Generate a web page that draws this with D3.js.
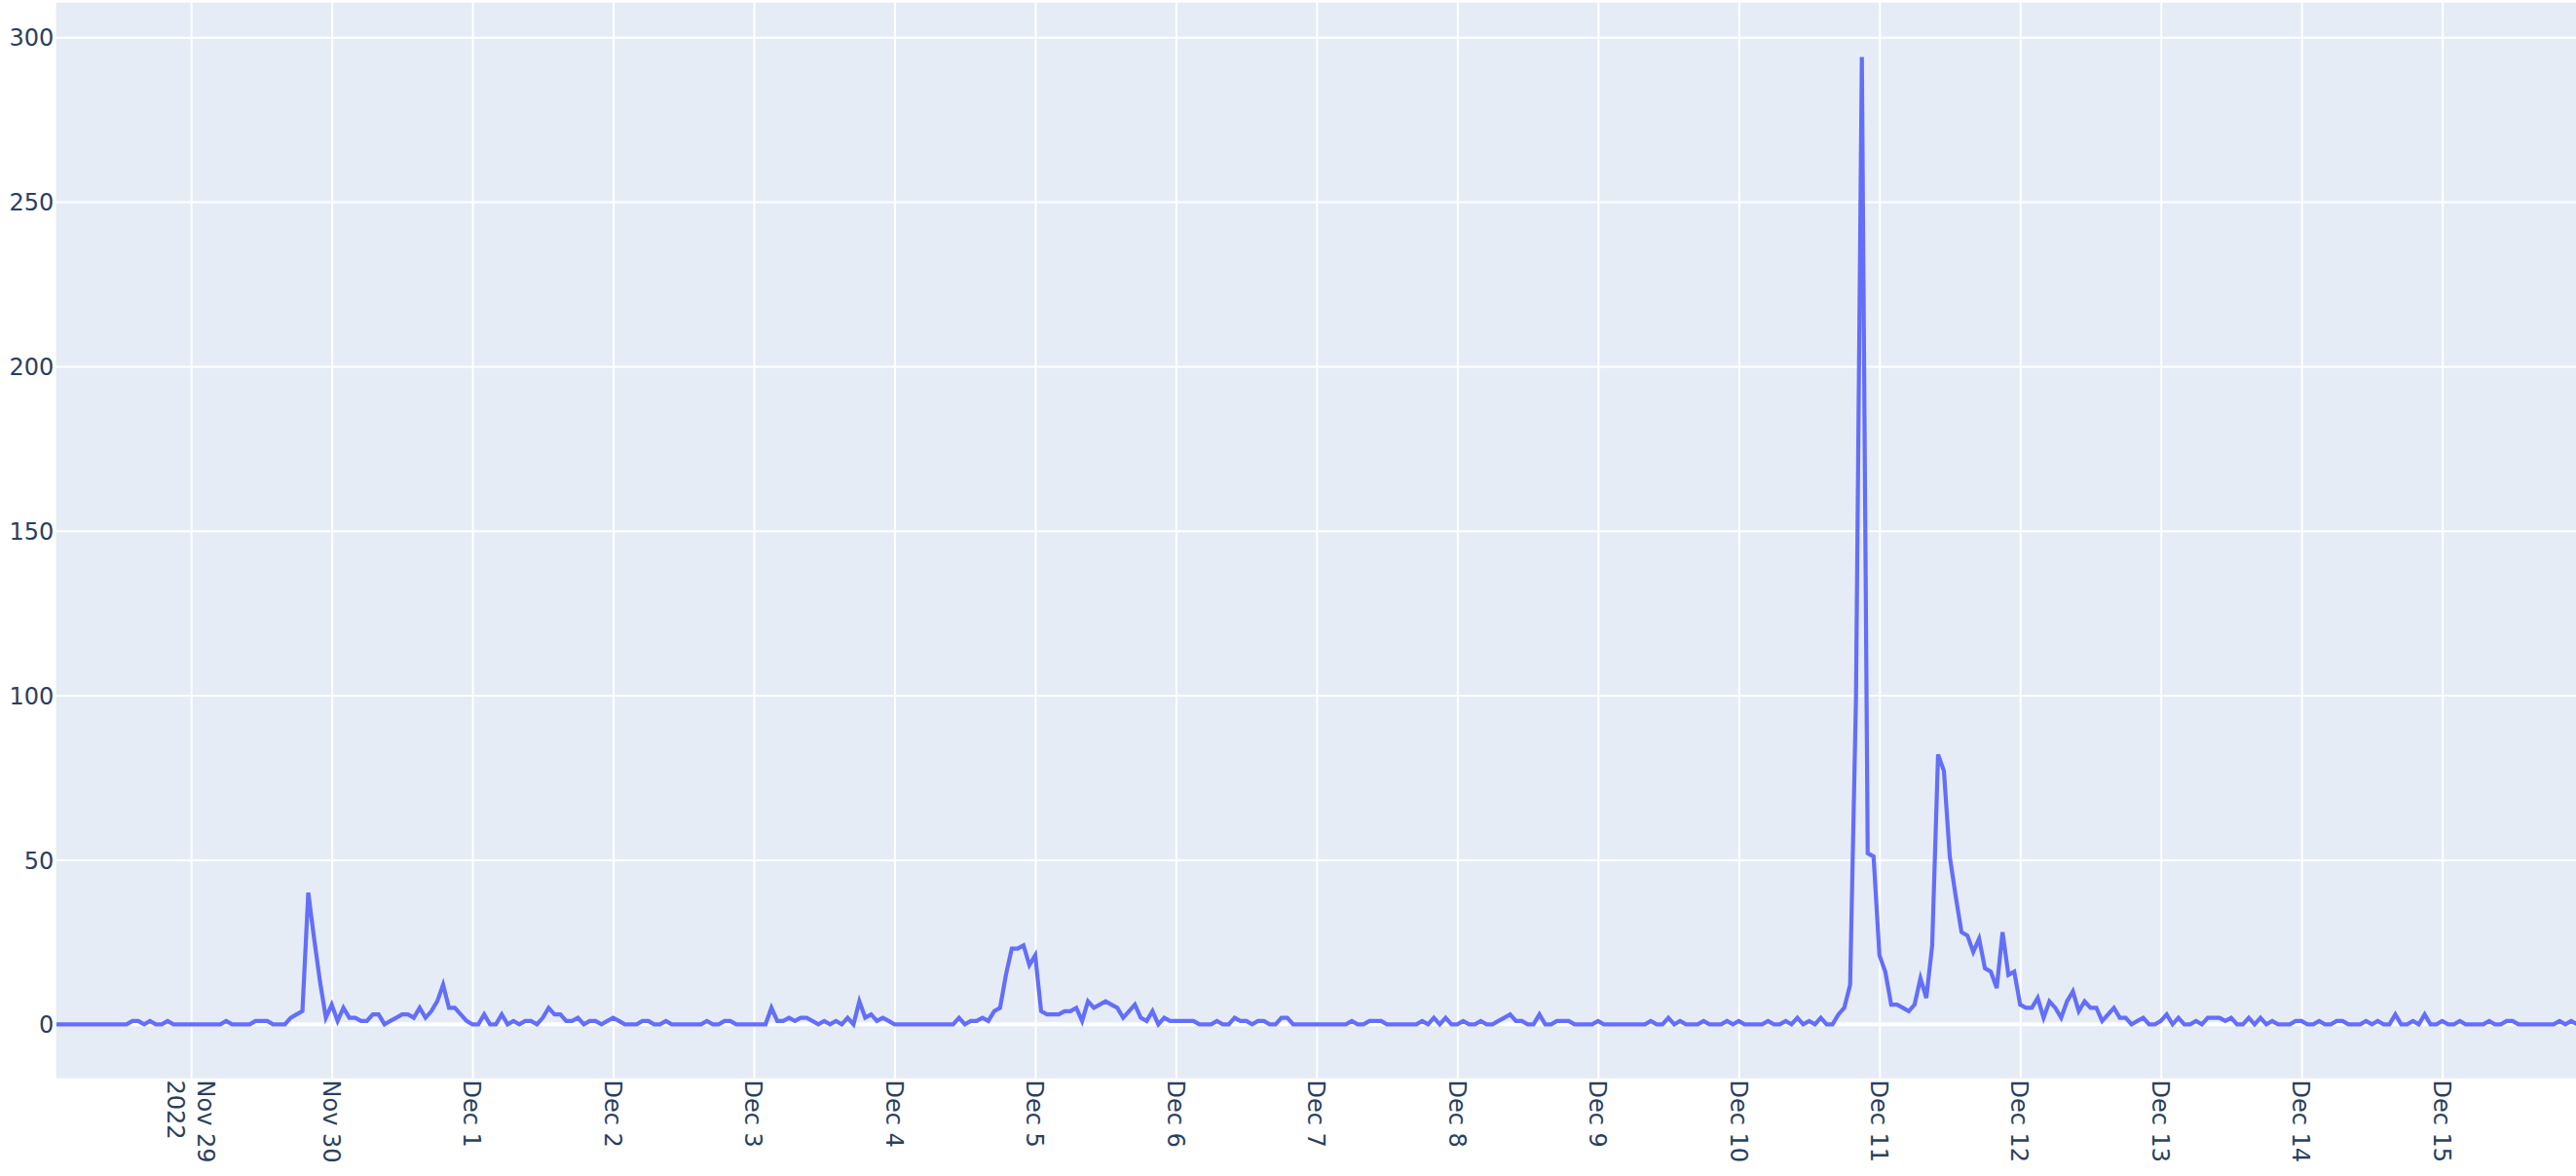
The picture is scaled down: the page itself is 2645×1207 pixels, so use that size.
<!DOCTYPE html>
<html>
<head>
<meta charset="utf-8">
<script src="https://cdn.jsdelivr.net/npm/d3@7"></script>
<style>
  html, body { margin: 0; padding: 0; background: #ffffff; overflow: hidden; }
  svg { display: block; }
</style>
</head>
<body>
<svg id="chart"></svg>
<script>
// ---------------- data ----------------
const startTime = "2022-11-28T01:00:00Z";   // first hourly sample
const values = [
  0,0,0,0,0,0,0,0,0,0,
  0,0,0,1,1,0,1,0,0,1,
  0,0,0,0,0,0,0,0,0,1,
  0,0,0,0,1,1,1,0,0,0,
  2,3,4,40,26,13,2,6,1,5,
  2,2,1,1,3,3,0,1,2,3,
  3,2,5,2,4,7,12,5,5,3,
  1,0,0,3,0,0,3,0,1,0,
  1,1,0,2,5,3,3,1,1,2,
  0,1,1,0,1,2,1,0,0,0,
  1,1,0,0,1,0,0,0,0,0,
  0,1,0,0,1,1,0,0,0,0,
  0,0,5,1,1,2,1,2,2,1,
  0,1,0,1,0,2,0,7,2,3,
  1,2,1,0,0,0,0,0,0,0,
  0,0,0,0,2,0,1,1,2,1,
  4,5,15,23,23,24,18,21,4,3,
  3,3,4,4,5,1,7,5,6,7,
  6,5,2,4,6,2,1,4,0,2,
  1,1,1,1,1,0,0,0,1,0,
  0,2,1,1,0,1,1,0,0,2,
  2,0,0,0,0,0,0,0,0,0,
  0,1,0,0,1,1,1,0,0,0,
  0,0,0,1,0,2,0,2,0,0,
  1,0,0,1,0,0,1,2,3,1,
  1,0,0,3,0,0,1,1,1,0,
  0,0,0,1,0,0,0,0,0,0,
  0,0,1,0,0,2,0,1,0,0,
  0,1,0,0,0,1,0,1,0,0,
  0,0,1,0,0,1,0,2,0,1,
  0,2,0,0,3,5,12,99,294,52,
  51,21,16,6,6,5,4,6,14,8,
  24,82,77,51,39,28,27,22,26,17,
  16,11,28,15,16,6,5,5,8,2,
  7,5,2,7,10,4,7,5,5,1,
  3,5,2,2,0,1,2,0,0,1,
  3,0,2,0,0,1,0,2,2,2,
  1,2,0,0,2,0,2,0,1,0,
  0,0,1,1,0,0,1,0,0,1,
  1,0,0,0,1,0,1,0,0,3,
  0,0,1,0,3,0,0,1,0,0,
  1,0,0,0,0,1,0,0,1,1,
  0,0,0,0,0,0,0,1,0,1,
  0
];
const yTickValues = [0, 50, 100, 150, 200, 250, 300];
const xTickDates = [
  "2022-11-29","2022-11-30","2022-12-01","2022-12-02","2022-12-03","2022-12-04",
  "2022-12-05","2022-12-06","2022-12-07","2022-12-08","2022-12-09","2022-12-10",
  "2022-12-11","2022-12-12","2022-12-13","2022-12-14","2022-12-15"
];
const xTickLabels = [
  ["Nov 29","2022"],["Nov 30"],["Dec 1"],["Dec 2"],["Dec 3"],["Dec 4"],
  ["Dec 5"],["Dec 6"],["Dec 7"],["Dec 8"],["Dec 9"],["Dec 10"],
  ["Dec 11"],["Dec 12"],["Dec 13"],["Dec 14"],["Dec 15"]
];

// ---------------- layout ----------------
const W = 2645, H = 1207;
const P = { left: 57.7, right: 2646.1, top: 2.7, bottom: 1106.7 };
const FONT = '"DejaVu Sans", Verdana, sans-serif';
const FS = 24;
const TEXT = "#2a3f5f";

const t0 = d3.isoParse(startTime);
const series = values.map((v, i) => ({ t: d3.utcHour.offset(t0, i), v }));
const tickDates = xTickDates.map(d => d3.isoParse(d + "T00:00:00Z"));

const x = d3.scaleUtc()
  .domain([series[0].t, series[series.length - 1].t])
  .range([P.left, P.right]);
const y = d3.scaleLinear()
  .domain([-16.4, 310.5])
  .range([P.bottom, P.top]);

const svg = d3.select("#chart").attr("width", W).attr("height", H)
  .attr("viewBox", `0 0 ${W} ${H}`);

svg.append("rect").attr("x", 0).attr("y", 0).attr("width", W).attr("height", H).attr("fill", "#ffffff");
svg.append("rect")
  .attr("x", P.left).attr("y", P.top)
  .attr("width", P.right - P.left).attr("height", P.bottom - P.top)
  .attr("fill", "#E5ECF6");

// vertical gridlines
const gx = svg.append("g").attr("transform", `translate(0,${P.bottom})`)
  .call(d3.axisBottom(x).tickValues(tickDates).tickSize(-(P.bottom - P.top)).tickFormat(""));
gx.select(".domain").remove();
gx.selectAll("line").attr("stroke", "#ffffff").attr("stroke-width", 2);

// horizontal gridlines
const gy = svg.append("g").attr("transform", `translate(${P.left},0)`)
  .call(d3.axisLeft(y).tickValues(yTickValues.filter(v => v !== 0)).tickSize(-(P.right - P.left)).tickFormat(""));
gy.select(".domain").remove();
gy.selectAll("line").attr("stroke", "#ffffff").attr("stroke-width", 2);

// zero line
svg.append("line")
  .attr("x1", P.left).attr("x2", P.right)
  .attr("y1", y(0)).attr("y2", y(0))
  .attr("stroke", "#ffffff").attr("stroke-width", 4);

// data line
svg.append("clipPath").attr("id", "clip").append("rect")
  .attr("x", P.left).attr("y", P.top)
  .attr("width", P.right - P.left).attr("height", P.bottom - P.top);
svg.append("path")
  .datum(series)
  .attr("clip-path", "url(#clip)")
  .attr("fill", "none")
  .attr("stroke", "#636EFA")
  .attr("stroke-width", 4.2)
  .attr("d", d3.line().x(d => x(d.t)).y(d => y(d.v)));

// y tick labels
const yl = svg.append("g").attr("transform", `translate(${P.left},0)`)
  .call(d3.axisLeft(y).tickValues(yTickValues).tickSize(0).tickPadding(2.5).tickFormat(d3.format("d")));
yl.select(".domain").remove();
yl.selectAll("text")
  .attr("font-family", FONT).attr("font-size", FS).attr("fill", TEXT)
  .attr("dy", "0.36em");
yl.attr("font-family", null).attr("font-size", null);

// x tick labels (rotated 90deg, multi-line centred on tick)
const LH = 31.5;
const xl = svg.append("g");
tickDates.forEach((d, i) => {
  const lines = xTickLabels[i];
  const n = lines.length;
  const txt = xl.append("text")
    .attr("transform", `translate(${x(d)},${P.bottom + 1.8}) rotate(90)`)
    .attr("font-family", FONT).attr("font-size", FS).attr("fill", TEXT)
    .attr("text-anchor", "start");
  lines.forEach((s, k) => {
    txt.append("tspan").attr("x", 0)
      .attr("y", (k - (n - 1) / 2) * LH + FS * 0.364)
      .text(s);
  });
});
</script>
</body>
</html>
